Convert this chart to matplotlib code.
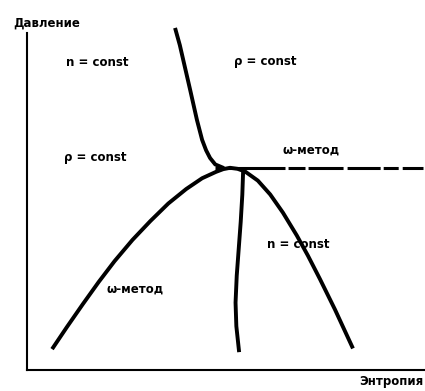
import matplotlib
matplotlib.use("Agg")
import matplotlib.pyplot as plt

# Энтропия / давление, условные единицы 0..100
upper_s = [37.2, 38.4, 41.0, 42.7, 44.0, 45.0, 46.0, 47.3, 49.5]
upper_p = [101.5, 96.4, 83.1, 74.2, 68.3, 65.2, 62.9, 61.0, 59.9]

dome_s = [6.3, 10.0, 14.0, 18.0, 22.0, 26.5, 31.0, 35.5, 40.0, 44.0, 47.5,
          49.3, 51.0, 52.9, 54.8, 58.0, 61.1, 64.3, 67.8, 70.6, 73.6, 77.4, 81.9]
dome_p = [6.2, 12.7, 19.5, 26.1, 32.3, 38.6, 44.2, 49.4, 53.7, 56.9, 58.8,
          59.6, 60.0, 59.7, 58.9, 56.2, 52.1, 46.7, 39.9, 33.9, 27.0, 17.9, 6.4]

rho_s = [54.3, 54.1, 53.7, 53.2, 52.7, 52.4, 52.6, 53.3]
rho_p = [58.8, 52.0, 44.0, 36.0, 28.0, 20.0, 13.0, 5.3]

omega_s = [47.2, 99.5]
omega_p = [59.9, 59.9]

labels = ["n = const", "ρ = const", "ρ = const", "ω-метод", "ω-метод", "n = const"]
label_s = [17.6, 17.1, 59.8, 71.4, 27.1, 68.1]
label_p = [91.1, 63.2, 91.4, 65.3, 24.0, 37.1]

plt.rcParams['lines.scale_dashes'] = False
fig = plt.figure(figsize=(4.25, 3.91), dpi=100)
ax = fig.add_axes([0.0635, 0.0537, 0.9365, 0.8619])
ax.set_xlim(0, 100)
ax.set_ylim(0, 100)
for side in ['top', 'right']:
    ax.spines[side].set_visible(False)
for side in ['left', 'bottom']:
    ax.spines[side].set_linewidth(1.5)
ax.set_xticks([])
ax.set_yticks([])

lw = 2.8
curve_style = dict(color='black', lw=lw, solid_joinstyle='round', solid_capstyle='butt')
ax.plot(upper_s, upper_p, clip_on=False, **curve_style)
ax.plot(dome_s, dome_p, **curve_style)
ax.plot(rho_s, rho_p, **curve_style)
ax.plot(omega_s, omega_p, color='black', lw=2.2,
        linestyle=(0, (50.4, 2.2, 12.2, 2.2, 25.2, 2.9, 23.8, 2.2, 10.8, 2.9, 15.1, 60)))

for t, s, p in zip(labels, label_s, label_p):
    ax.text(s, p, t, ha='center', va='center', fontsize=8.5, fontweight='bold')

fig.text(47 / 425, 1 - 23 / 391, "Давление", ha='center', va='center',
         fontsize=8.5, fontweight='bold')
fig.text(391 / 425, 1 - 381 / 391, "Энтропия", ha='center', va='center',
         fontsize=8.5, fontweight='bold')

fig.savefig("out.png", dpi=100)
